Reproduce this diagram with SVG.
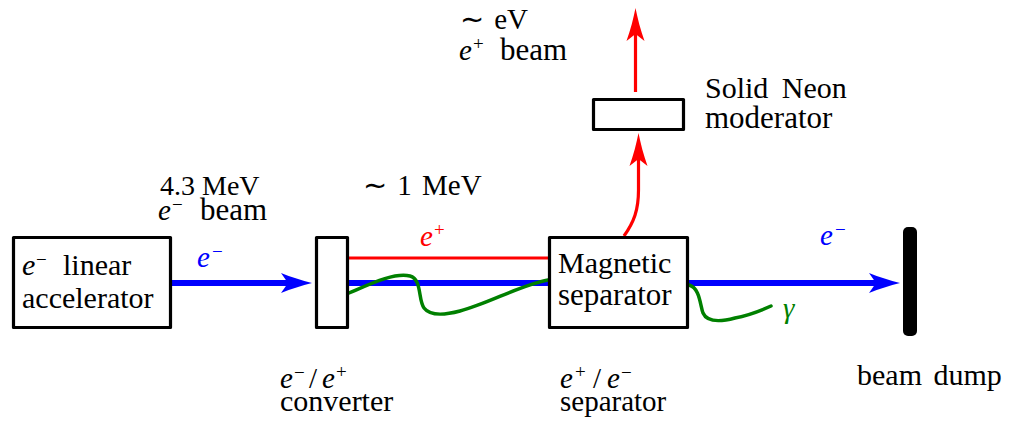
<svg xmlns="http://www.w3.org/2000/svg" width="1009" height="421" viewBox="0 0 1009 421">
<defs>
<marker id="ab" viewBox="-32 -11 33 22" refX="-20" refY="0" markerWidth="33" markerHeight="22" markerUnits="userSpaceOnUse" orient="auto">
<path d="M0 0 C-10 -2.5 -21 -6 -31 -10 L-24 0 L-31 10 C-21 6 -10 2.5 0 0 Z" fill="#0000ff"/>
</marker>
<marker id="ar" viewBox="-34 -11 35 22" refX="-20" refY="0" markerWidth="35" markerHeight="22" markerUnits="userSpaceOnUse" orient="auto">
<path d="M0 0 C-10 -2 -22 -5 -33 -9 L-26 0 L-33 9 C-22 5 -10 2 0 0 Z" fill="#ff0000"/>
</marker>
</defs>
<g id="connectors" fill="none">
<g stroke="#0000ff" stroke-width="6">
<line x1="172" y1="283" x2="292" y2="283" marker-end="url(#ab)"/>
<line x1="349" y1="283" x2="548" y2="283"/>
<line x1="689" y1="283" x2="880" y2="283" marker-end="url(#ab)"/>
</g>
<g stroke="#ff0000" stroke-width="3.2">
<line x1="349" y1="258" x2="548" y2="258"/>
<path d="M624 236 C634 222 638.5 210 638.5 190 L638.5 153" marker-end="url(#ar)"/>
<line x1="635.5" y1="92" x2="635.5" y2="28" marker-end="url(#ar)"/>
</g>
<g stroke="#008000" stroke-width="3.5" stroke-linecap="round">
<path d="M349 293 C370 284 395 272 410 276 C422 279 418 300 424 308 C430 316 445 315 460 311 C490 303 520 285 548 280"/>
<path d="M689 285 C700 288 700 305 703 313 C707 322 720 322 735 318 C750 315 760 311 771 306"/>
</g>
</g>
<g id="linac">
<rect x="13.5" y="237.5" width="157" height="90" fill="#fff" stroke="#000" stroke-width="3.2" stroke-linejoin="round"/>
<text x="22" y="275" font-family="Liberation Serif" font-size="30" font-style="italic">e</text>
<text x="36" y="266" font-family="Liberation Serif" font-size="19">−</text>
<text x="63" y="275" font-family="Liberation Serif" font-size="30">linear</text>
<text x="22" y="308" font-family="Liberation Serif" font-size="30">accelerator</text>
</g>
<g id="converter">
<rect x="316.5" y="237.5" width="31" height="90" fill="#fff" stroke="#000" stroke-width="3.2" stroke-linejoin="round"/>
<text x="280" y="388" font-family="Liberation Serif" font-size="29" font-style="italic">e</text>
<text x="294" y="379" font-family="Liberation Serif" font-size="19">−</text>
<text x="309" y="388" font-family="Liberation Serif" font-size="29">/</text>
<text x="322" y="388" font-family="Liberation Serif" font-size="29" font-style="italic">e</text>
<text x="336" y="378" font-family="Liberation Serif" font-size="19">+</text>
<text x="280" y="411" font-family="Liberation Serif" font-size="30">converter</text>
</g>
<g id="separator">
<rect x="549.5" y="237.5" width="138" height="90" fill="#fff" stroke="#000" stroke-width="3.2" stroke-linejoin="round"/>
<text x="558" y="273" font-family="Liberation Serif" font-size="30">Magnetic</text>
<text x="558" y="305" font-family="Liberation Serif" font-size="31">separator</text>
<text x="560" y="388" font-family="Liberation Serif" font-size="29" font-style="italic">e</text>
<text x="575" y="378" font-family="Liberation Serif" font-size="19">+</text>
<text x="593" y="388" font-family="Liberation Serif" font-size="29">/</text>
<text x="607" y="388" font-family="Liberation Serif" font-size="29" font-style="italic">e</text>
<text x="621" y="379" font-family="Liberation Serif" font-size="19">−</text>
<text x="560" y="411" font-family="Liberation Serif" font-size="29">separator</text>
</g>
<g id="moderator">
<rect x="593.5" y="99.5" width="90" height="30" fill="#fff" stroke="#000" stroke-width="3.2" stroke-linejoin="round"/>
<text x="705" y="98" font-family="Liberation Serif" font-size="30" word-spacing="6">Solid Neon</text>
<text x="705" y="128" font-family="Liberation Serif" font-size="31">moderator</text>
</g>
<g id="beamdump">
<rect x="903" y="227" width="14" height="109" rx="5" fill="#000"/>
<text x="857" y="385" font-family="Liberation Serif" font-size="30" word-spacing="4">beam dump</text>
</g>
<g id="labels">
<text x="160" y="195" font-family="Liberation Serif" font-size="28">4.3 MeV</text>
<text x="158" y="220" font-family="Liberation Serif" font-size="29" font-style="italic">e</text>
<text x="172" y="211" font-family="Liberation Serif" font-size="19">−</text>
<text x="200" y="220" font-family="Liberation Serif" font-size="31">beam</text>
<text x="197" y="267" font-family="Liberation Serif" font-size="29" font-style="italic" fill="#0000ff">e</text>
<text x="212" y="258" font-family="Liberation Serif" font-size="19" fill="#0000ff">−</text>
<text x="363" y="195" font-family="Liberation Serif" font-size="29" word-spacing="3">∼ 1 MeV</text>
<text x="420" y="246" font-family="Liberation Serif" font-size="29" font-style="italic" fill="#ff0000">e</text>
<text x="434" y="236" font-family="Liberation Serif" font-size="19" fill="#ff0000">+</text>
<text x="820" y="245" font-family="Liberation Serif" font-size="29" font-style="italic" fill="#0000ff">e</text>
<text x="835" y="236" font-family="Liberation Serif" font-size="19" fill="#0000ff">−</text>
<text x="783" y="318" font-family="Liberation Serif" font-size="29" font-style="italic" fill="#008000">γ</text>
<text x="460" y="29" font-family="Liberation Serif" font-size="29" word-spacing="3">∼ eV</text>
<text x="459" y="60" font-family="Liberation Serif" font-size="29" font-style="italic">e</text>
<text x="473" y="50" font-family="Liberation Serif" font-size="19">+</text>
<text x="500" y="60" font-family="Liberation Serif" font-size="31">beam</text>
</g>
</svg>
